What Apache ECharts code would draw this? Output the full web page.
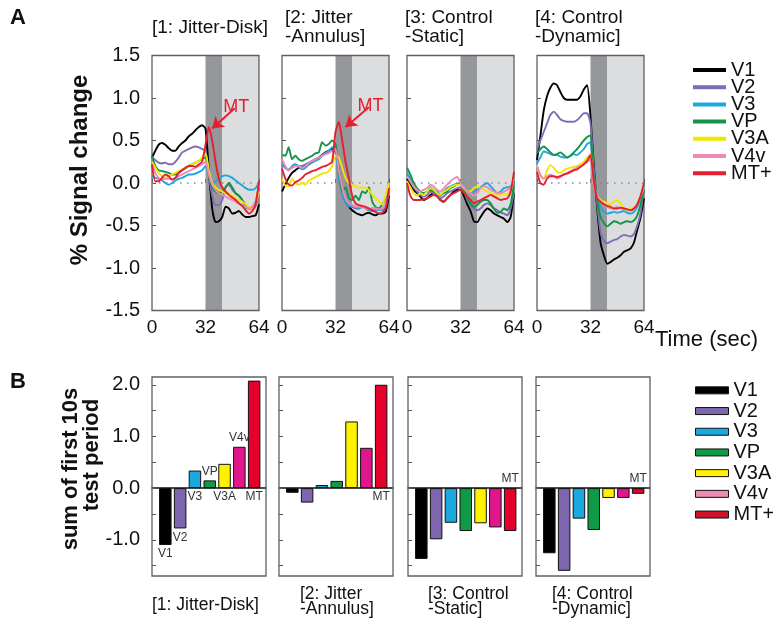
<!DOCTYPE html>
<html><head><meta charset="utf-8">
<script src="https://cdn.jsdelivr.net/npm/echarts@6/dist/echarts.min.js"></script>
<style>html,body{margin:0;padding:0;background:#fff}#c{width:773px;height:622px}</style>
</head><body><div id="c"></div>
<script>
// ---------------- DATA ----------------
const time = [0,2,4,6,8,10,12,14,16,18,20,22,24,26,28,30,32,34,36,38,40,42,44,46,48,50,52,54,56,58,60,62,64];
const regions = ['V1','V2','V3','VP','V3A','V4v','MT+'];
const barTags = ['V1','V2','V3','VP','V3A','V4v','MT'];
const titles = ['[1: Jitter-Disk]','[2: Jitter\n-Annulus]','[3: Control\n-Static]','[4: Control\n-Dynamic]'];
const timeTicks = [0,32,64];
const barYTicks = [-1.5,-1,-0.5,0,0.5,1,1.5,2];
const barYLabels = [-1,0,1,2];
const testPeriod = [32,42];
const postPeriod = [42,64];

// Panel A time courses (% signal change), rows = V1,V2,V3,VP,V3A,V4v,MT+
const disk = [
 [0.30,0.38,0.45,0.47,0.45,0.41,0.38,0.38, 0.43,0.47,0.50,0.55,0.58,0.62,0.66,0.68, 0.64,0.15,-0.30,-0.46,-0.45,-0.40,-0.28,-0.30, -0.36,-0.35,-0.33,-0.37,-0.40,-0.40,-0.39,-0.38, -0.25],
 [0.30,0.27,0.24,0.23,0.24,0.22,0.22,0.25, 0.30,0.36,0.38,0.40,0.42,0.43,0.42,0.40, 0.38,0.10,-0.15,-0.26,-0.26,-0.20,-0.05,-0.02, -0.08,-0.12,-0.15,-0.20,-0.25,-0.30,-0.30,-0.27, -0.15],
 [0.08,0.06,0.05,0.03,0.00,-0.02,0.00,0.03, 0.05,0.06,0.08,0.10,0.10,0.11,0.13,0.15, 0.20,0.10,0.00,0.02,0.05,0.08,0.09,0.08, 0.06,0.03,0.00,-0.03,-0.06,-0.08,-0.08,-0.06, 0.00],
 [0.32,0.20,0.15,0.14,0.13,0.12,0.10,0.10, 0.12,0.15,0.17,0.20,0.22,0.24,0.26,0.28, 0.30,0.10,-0.05,-0.10,-0.12,-0.10,-0.05,0.00, -0.05,-0.12,-0.15,-0.20,-0.28,-0.30,-0.28,-0.22, -0.05],
 [0.25,0.18,0.12,0.08,0.06,0.08,0.10,0.12, 0.14,0.16,0.18,0.20,0.22,0.24,0.26,0.30, 0.35,0.15,0.00,-0.05,-0.08,-0.10,-0.12,-0.12, -0.15,-0.18,-0.20,-0.22,-0.25,-0.28,-0.30,-0.25, -0.10],
 [0.22,0.12,0.06,0.04,0.05,0.05,0.04,0.06, 0.08,0.10,0.12,0.14,0.16,0.18,0.20,0.22, 0.25,0.10,-0.02,-0.08,-0.12,-0.14,-0.16,-0.18, -0.20,-0.22,-0.24,-0.26,-0.28,-0.30,-0.28,-0.22, -0.02],
 [0.22,0.02,0.02,0.06,0.10,0.08,0.04,0.06, 0.12,0.15,0.18,0.20,0.20,0.19,0.22,0.25, 0.45,0.66,0.50,0.25,0.05,-0.05,-0.10,-0.14, -0.17,-0.20,-0.24,-0.27,-0.32,-0.36,-0.33,-0.25, 0.02]
];
const annulus = [
 [-0.10,-0.02,0.06,0.12,0.15,0.18,0.20,0.20, 0.22,0.25,0.28,0.30,0.33,0.36,0.38,0.40, 0.38,0.15,-0.10,-0.22,-0.28,-0.32,-0.35,-0.37, -0.38,-0.36,-0.35,-0.37,-0.38,-0.36,-0.36,-0.34, -0.15],
 [0.22,0.18,0.16,0.18,0.20,0.19,0.20,0.22, 0.24,0.26,0.28,0.30,0.32,0.35,0.37,0.38, 0.36,0.10,-0.12,-0.22,-0.26,-0.28,-0.30,-0.30, -0.28,-0.30,-0.32,-0.33,-0.32,-0.30,-0.32,-0.28, -0.10],
 [0.22,0.18,0.15,0.20,0.22,0.20,0.16,0.18, 0.22,0.24,0.26,0.28,0.32,0.35,0.38,0.42, 0.40,0.05,-0.10,-0.22,-0.28,-0.26,-0.28,-0.30, -0.28,-0.30,-0.32,-0.30,-0.30,-0.32,-0.30,-0.25, -0.05],
 [0.33,0.32,0.42,0.28,0.32,0.28,0.26,0.28, 0.30,0.32,0.35,0.36,0.48,0.44,0.46,0.50, 0.46,0.15,-0.10,-0.05,-0.18,-0.20,-0.15,-0.20, -0.10,-0.12,-0.05,-0.22,-0.28,-0.30,-0.25,-0.18, 0.00],
 [0.05,-0.03,-0.04,0.05,0.00,-0.02,0.00,-0.02, 0.03,0.05,0.07,0.09,0.11,0.12,0.14,0.20, 0.32,0.30,0.18,0.06,0.00,-0.02,-0.04,-0.06, -0.05,-0.06,-0.08,-0.14,-0.18,-0.22,-0.25,-0.15, 0.00],
 [0.28,0.20,0.15,0.18,0.20,0.20,0.18,0.20, 0.24,0.26,0.28,0.30,0.32,0.34,0.35,0.38, 0.40,0.15,-0.05,-0.18,-0.24,-0.26,-0.28,-0.28, -0.28,-0.30,-0.30,-0.30,-0.30,-0.31,-0.30,-0.25, -0.08],
 [0.17,0.05,-0.02,-0.03,0.01,0.03,0.06,0.10, 0.12,0.14,0.15,0.17,0.19,0.20,0.22,0.25, 0.60,0.72,0.50,0.25,0.05,-0.15,-0.24,-0.26, -0.27,-0.28,-0.30,-0.32,-0.34,-0.36,-0.35,-0.30, -0.06]
];
const controlStatic = [
 [0.05,-0.02,-0.08,-0.12,-0.16,-0.20,-0.18,-0.14, -0.12,-0.15,-0.20,-0.22,-0.18,-0.14,-0.10,-0.08, -0.08,-0.15,-0.25,-0.33,-0.45,-0.46,-0.40,-0.34, -0.30,-0.32,-0.36,-0.38,-0.40,-0.42,-0.46,-0.40, -0.12],
 [0.10,0.02,-0.05,-0.10,-0.14,-0.16,-0.14,-0.10, -0.12,-0.15,-0.18,-0.16,-0.12,-0.10,-0.08,-0.06, -0.05,-0.10,-0.20,-0.26,-0.30,-0.32,-0.30,-0.26, -0.24,-0.26,-0.30,-0.32,-0.35,-0.36,-0.38,-0.30, -0.10],
 [0.12,0.05,-0.02,-0.08,-0.10,-0.12,-0.10,-0.05, -0.08,-0.10,-0.14,-0.10,-0.06,-0.04,-0.02,-0.01, 0.00,-0.05,-0.10,-0.12,-0.10,-0.08,-0.05,-0.02, 0.00,-0.04,-0.08,-0.12,-0.10,-0.06,-0.05,-0.04, 0.00],
 [0.18,0.10,0.00,-0.06,-0.10,-0.12,-0.10,-0.08, -0.10,-0.12,-0.15,-0.12,-0.10,-0.06,-0.04,-0.02, 0.00,-0.08,-0.18,-0.24,-0.28,-0.26,-0.22,-0.20, -0.20,-0.24,-0.30,-0.35,-0.34,-0.30,-0.32,-0.25, 0.00],
 [0.02,-0.05,-0.12,-0.15,-0.12,-0.14,-0.10,-0.06, -0.08,-0.12,-0.14,-0.10,-0.08,-0.05,-0.03,-0.02, -0.02,-0.06,-0.10,-0.10,-0.06,-0.04,-0.06,-0.08, -0.10,-0.12,-0.14,-0.15,-0.14,-0.12,-0.14,-0.08, 0.05],
 [0.08,0.02,-0.04,-0.08,-0.10,-0.08,-0.06,-0.02, -0.04,-0.08,-0.10,-0.06,-0.02,0.02,0.05,0.07, 0.00,-0.05,-0.10,-0.12,-0.15,-0.12,-0.06,-0.04, -0.05,-0.08,-0.10,-0.12,-0.12,-0.10,-0.08,-0.05, 0.00],
 [0.00,-0.15,-0.20,-0.20,-0.20,-0.19,-0.18,-0.16, -0.14,-0.16,-0.20,-0.22,-0.18,-0.14,-0.12,-0.10, -0.08,-0.12,-0.16,-0.20,-0.24,-0.22,-0.20,-0.18, -0.16,-0.14,-0.16,-0.18,-0.20,-0.19,-0.18,-0.10, 0.13]
];
const controlDynamic = [
 [0.27,0.55,0.85,1.02,1.12,1.17,1.15,1.07, 1.00,0.98,0.98,0.98,0.98,1.02,1.10,1.15, 0.78,0.20,-0.30,-0.70,-0.85,-0.95,-0.93,-0.90, -0.88,-0.85,-0.81,-0.79,-0.77,-0.70,-0.55,-0.40, -0.18],
 [0.39,0.50,0.60,0.70,0.80,0.84,0.80,0.75, 0.73,0.72,0.72,0.72,0.74,0.78,0.82,0.82, 0.70,0.15,-0.25,-0.58,-0.68,-0.71,-0.69,-0.67, -0.66,-0.63,-0.61,-0.62,-0.63,-0.60,-0.50,-0.35, -0.05],
 [0.23,0.30,0.37,0.36,0.34,0.33,0.33,0.31, 0.30,0.30,0.32,0.34,0.33,0.36,0.40,0.46, 0.48,0.05,-0.15,-0.28,-0.34,-0.36,-0.35,-0.34, -0.35,-0.34,-0.33,-0.35,-0.36,-0.34,-0.28,-0.18, -0.03],
 [0.35,0.40,0.43,0.40,0.36,0.33,0.34,0.36, 0.33,0.30,0.32,0.36,0.40,0.45,0.50,0.54, 0.56,0.05,-0.20,-0.40,-0.47,-0.51,-0.48,-0.45, -0.46,-0.48,-0.46,-0.45,-0.46,-0.44,-0.38,-0.25, -0.08],
 [0.21,0.08,0.05,0.15,0.21,0.18,0.13,0.12, 0.15,0.17,0.18,0.19,0.20,0.22,0.25,0.30, 0.33,-0.02,-0.15,-0.20,-0.22,-0.24,-0.25,-0.22, -0.20,-0.24,-0.30,-0.32,-0.30,-0.29,-0.24,-0.15, -0.05],
 [0.20,0.10,0.05,0.08,0.10,0.08,0.05,0.07, 0.10,0.12,0.14,0.16,0.18,0.20,0.22,0.25, 0.28,-0.02,-0.15,-0.22,-0.26,-0.28,-0.30,-0.30, -0.28,-0.30,-0.30,-0.31,-0.32,-0.30,-0.25,-0.15, -0.05],
 [0.13,0.00,-0.02,0.05,0.08,0.08,0.07,0.08, 0.10,0.11,0.13,0.15,0.16,0.19,0.22,0.26, 0.33,0.02,-0.18,-0.22,-0.25,-0.27,-0.28,-0.30, -0.30,-0.29,-0.30,-0.31,-0.32,-0.30,-0.25,-0.15, 0.00]
];

// Panel B: sum of first 10 s of test period
const barsDisk    = [-1.10,-0.78, 0.34, 0.15, 0.47, 0.80, 2.08];
const barsAnnulus = [-0.09,-0.28, 0.06, 0.14, 1.29, 0.78, 2.00];
const barsStatic  = [-1.37,-0.99,-0.67,-0.83,-0.68,-0.76,-0.83];
const barsDynamic = [-1.26,-1.60,-0.59,-0.81,-0.19,-0.19,-0.11];

// ---------------- STYLE / LAYOUT ----------------
const FONT = '"Liberation Sans", Arial, Helvetica, sans-serif';
const lineColors = ['#000000','#7d6db5','#1ea7df','#139548','#f2e600','#ef8ab4','#e4202f'];
const barColors  = ['#000000','#7d66ae','#1aa8e0','#0f9a48','#fff200','#e2168c','#e4002b'];
const legendBarColors = ['#000000','#7d66ae','#1aa8e0','#0f9a48','#fff200','#ef8ab4','#d0112b'];
const darkBand = '#95979b', lightBand = '#dcdddf', borderCol = '#5f6064', red = '#e4202f';

const panels = [disk, annulus, controlStatic, controlDynamic];
const bars = [barsDisk, barsAnnulus, barsStatic, barsDynamic];

const topLeft = [152, 282, 407, 537], topW = 107, topTop = 55.5, topH = 255;
const botLeft = [152, 279, 408, 536], botW = 114, botTop = 377, botH = 199;

// label placement for bar annotations
const barNotePos = [
  ['bottom','bottom','bottom','top','bottom','top','bottom'],
  [null,null,null,null,null,null,'bottom'],
  [null,null,null,null,null,null,'top'],
  [null,null,null,null,null,null,'top']
];
// MT arrow annotations (data space): [start, end]
const mtArrows = [ [[49.5,0.88],[36,0.64]], [[52,0.89],[38,0.66]] ];

const grid = [], xAxis = [], yAxis = [], series = [];
for (let p = 0; p < 4; p++) {
  grid.push({left: topLeft[p], top: topTop, width: topW, height: topH, show: true,
    borderColor: borderCol, borderWidth: 1.3, backgroundColor: 'transparent', z: 3});
  xAxis.push({gridIndex: p, type: 'value', min: timeTicks[0], max: timeTicks[2], interval: 32,
    axisLine: {show: false},
    axisTick: {show: true, inside: true, length: 4, lineStyle: {color: '#555'}},
    axisLabel: {fontSize: 19, color: '#111', margin: 8, fontFamily: FONT},
    splitLine: {show: false}});
  yAxis.push({gridIndex: p, type: 'value', min: -1.5, max: 1.5, interval: 0.5,
    axisLine: {show: false},
    axisTick: {show: true, inside: true, length: 4, lineStyle: {color: '#555'}},
    axisLabel: {show: p === 0, fontSize: 20, color: '#111', margin: 12, fontFamily: FONT,
      formatter: v => v.toFixed(1)},
    splitLine: {show: false}});
}
for (let p = 0; p < 4; p++) {
  grid.push({left: botLeft[p], top: botTop, width: botW, height: botH, show: true,
    borderColor: borderCol, borderWidth: 1.3, backgroundColor: 'transparent', z: 3});
  xAxis.push({gridIndex: 4 + p, type: 'value', min: 0.1, max: 7.8,
    axisLine: {show: true, onZero: true, lineStyle: {color: '#111', width: 1.5}},
    axisTick: {show: false}, axisLabel: {show: false}, splitLine: {show: false}});
  yAxis.push({gridIndex: 4 + p, type: 'value', min: -1.7, max: 2.15,
    axisLine: {show: false},
    axisTick: {show: true, inside: true, length: 4, customValues: barYTicks, lineStyle: {color: '#555'}},
    axisLabel: {show: p === 0, customValues: barYLabels, fontSize: 20, color: '#111', margin: 12,
      fontFamily: FONT, formatter: v => v.toFixed(1)},
    splitLine: {show: false}});
}

for (let p = 0; p < 4; p++) {
  // zero reference line + stimulus period bands
  series.push({type: 'line', xAxisIndex: p, yAxisIndex: p, silent: true, showSymbol: false,
    data: [[time[0], 0], [time[time.length - 1], 0]],
    lineStyle: {color: '#8a8a8a', width: 1.3, type: [1.5, 5.5]},
    markArea: {silent: true, data: [
      [{xAxis: testPeriod[0], itemStyle: {color: darkBand, opacity: 1}}, {xAxis: testPeriod[1]}],
      [{xAxis: postPeriod[0], itemStyle: {color: lightBand, opacity: 1}}, {xAxis: postPeriod[1]}]
    ]}});
  for (let r = 0; r < regions.length; r++) {
    const s = {name: regions[r], type: 'line', xAxisIndex: p, yAxisIndex: p, silent: true,
      showSymbol: false, smooth: 0.2, color: lineColors[r],
      lineStyle: {width: 1.9, color: lineColors[r]},
      data: time.map((t, i) => [t, panels[p][r][i]])};
    if (r === 6 && p < 2) {
      const a = mtArrows[p];
      s.markLine = {silent: true, symbolSize: 11,
        lineStyle: {color: red, width: 2, type: 'solid'},
        label: {show: true, position: 'start', formatter: 'MT', color: red, fontSize: 18, fontFamily: FONT, distance: 2},
        data: [[{coord: a[0], symbol: 'none'}, {coord: a[1], symbol: 'arrow'}]]};
    }
    series.push(s);
  }
}
for (let p = 0; p < 4; p++) {
  for (let r = 0; r < regions.length; r++) {
    const pos = barNotePos[p][r];
    series.push({name: 'B-' + regions[r], type: 'bar', xAxisIndex: 4 + p, yAxisIndex: 4 + p,
      silent: true, barWidth: 12.5, barGap: '-100%',
      itemStyle: {color: barColors[r], borderColor: '#111', borderWidth: 1},
      label: pos ? {show: true, position: pos, distance: 3, formatter: barTags[r],
        fontSize: 12, color: '#333', fontFamily: FONT} : {show: false},
      data: [[r + 1, bars[p][r]]]});
  }
}

const graphic = [
  {type: 'text', x: 18, y: 18, style: {text: 'A', font: 'bold 22px ' + FONT, fill: '#111', align: 'center', verticalAlign: 'middle'}},
  {type: 'text', x: 18, y: 382, style: {text: 'B', font: 'bold 22px ' + FONT, fill: '#111', align: 'center', verticalAlign: 'middle'}},
  {type: 'text', x: 80, y: 170, rotation: Math.PI / 2, style: {text: '% Signal change', font: 'bold 24px ' + FONT, fill: '#111', align: 'center', verticalAlign: 'middle'}},
  {type: 'text', x: 71, y: 469, rotation: Math.PI / 2, style: {text: 'sum of first 10s', font: 'bold 22px ' + FONT, fill: '#111', align: 'center', verticalAlign: 'middle'}},
  {type: 'text', x: 92, y: 455, rotation: Math.PI / 2, style: {text: 'test period', font: 'bold 22px ' + FONT, fill: '#111', align: 'center', verticalAlign: 'middle'}},
  {type: 'text', x: 655, y: 340, style: {text: 'Time (sec)', font: '22px ' + FONT, fill: '#111', align: 'left', verticalAlign: 'middle'}}
];
const topTitleX = [152, 285, 405, 535];
const botTitleX = [152, 300, 428, 552];
const botTitleY = [605, 601.5, 601.5, 601.5];
for (let p = 0; p < 4; p++) {
  graphic.push({type: 'text', x: topTitleX[p], y: 27.5, style: {text: titles[p], font: '19px ' + FONT,
    lineHeight: 19, fill: '#111', align: 'left', verticalAlign: 'middle'}});
  graphic.push({type: 'text', x: botTitleX[p], y: botTitleY[p], style: {text: titles[p], font: '17.5px ' + FONT,
    lineHeight: 15.5, fill: '#111', align: 'left', verticalAlign: 'middle'}});
}

const option = {
  animation: false,
  backgroundColor: '#fff',
  textStyle: {fontFamily: FONT},
  grid, xAxis, yAxis, series, graphic,
  legend: [
    {data: regions, orient: 'vertical', left: 688, top: 55, icon: 'rect', itemWidth: 33, itemHeight: 4,
      itemGap: -2.8, selectedMode: false,
      textStyle: {fontSize: 20, lineHeight: 18, color: '#111', fontFamily: FONT}},
    {data: regions.map((n, i) => ({name: 'B-' + n,
        itemStyle: {color: legendBarColors[i], borderColor: '#111', borderWidth: 1}})),
      orient: 'vertical', left: 690, top: 375, icon: 'rect', itemWidth: 33, itemHeight: 7,
      itemGap: 0, selectedMode: false, formatter: n => n.slice(2),
      textStyle: {fontSize: 20, lineHeight: 20.7, color: '#111', fontFamily: FONT}}
  ]
};
const chart = echarts.init(document.getElementById('c'), null, {renderer: 'canvas'});
chart.setOption(option);
</script></body></html>
